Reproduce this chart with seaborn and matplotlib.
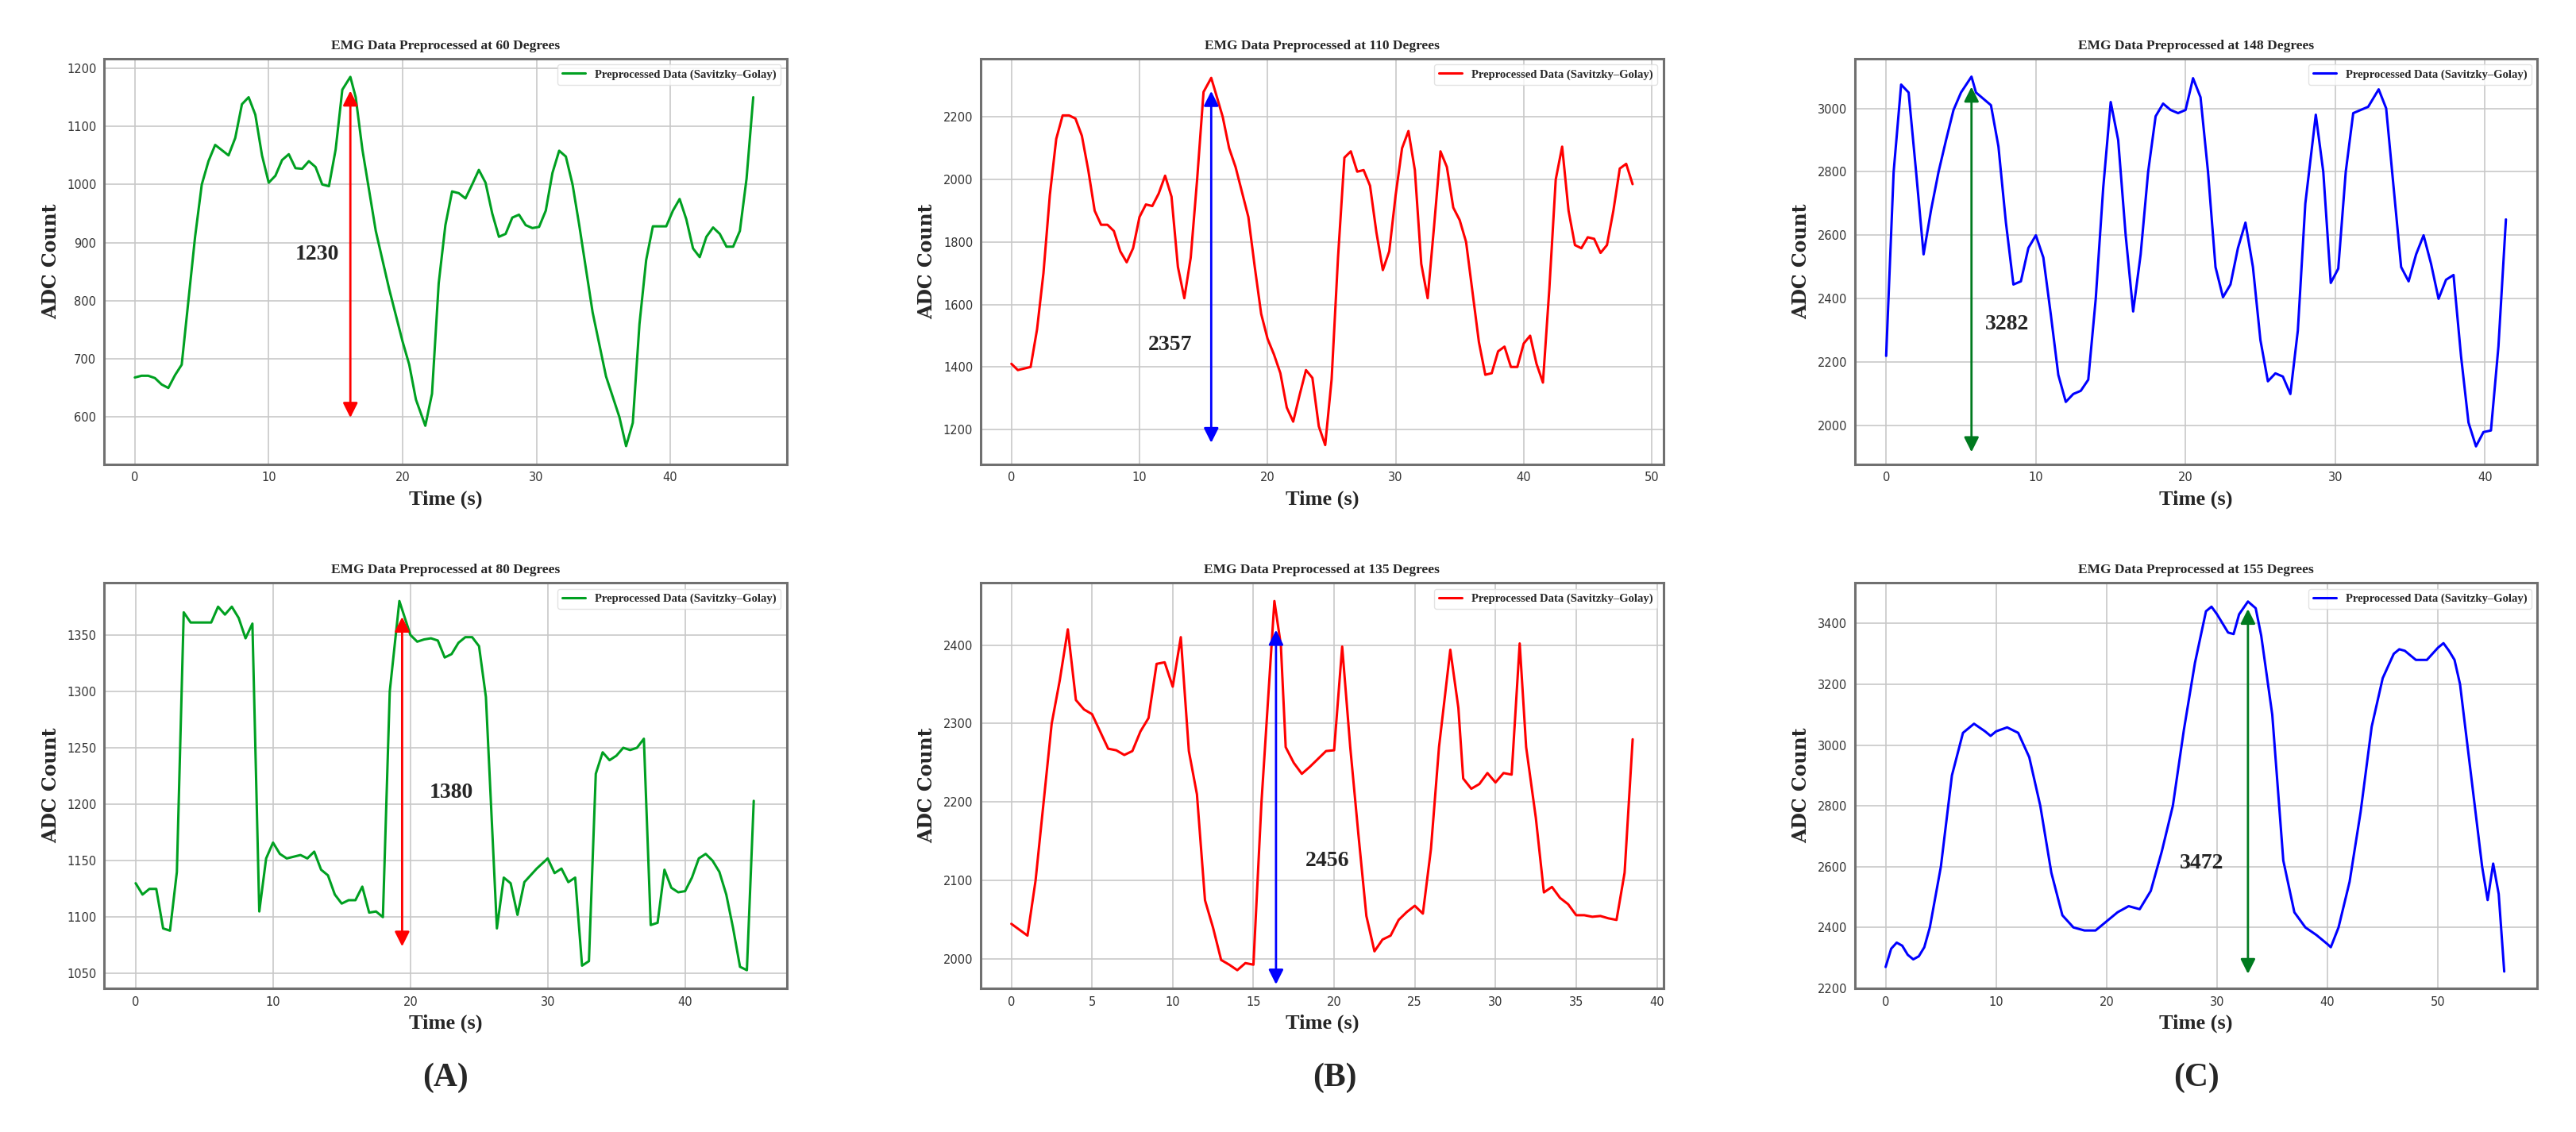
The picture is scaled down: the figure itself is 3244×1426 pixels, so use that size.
import numpy as np
import pandas as pd
import matplotlib
matplotlib.use("Agg")
import matplotlib.pyplot as plt
import seaborn as sns

# ---- data ----
t_60 = [0, 0.5, 1, 1.5, 2, 2.5, 3, 3.5, 4, 4.5, 5, 5.5, 6, 7, 7.5, 8, 8.5, 9, 9.5, 10, 10.5, 11, 11.5, 12, 12.5,
        13, 13.5, 14, 14.5, 15, 15.5, 16.1, 16.5, 17, 18, 19, 20, 20.5, 21, 21.7, 22.2, 22.7, 23.2, 23.7, 24.2,
        24.7, 25.2, 25.7, 26.2, 26.7, 27.2, 27.7, 28.2, 28.7, 29.2, 29.7, 30.2, 30.7, 31.2, 31.7, 32.2, 32.7,
        33.2, 34.2, 35.2, 36.2, 36.7, 37.2, 37.7, 38.2, 38.7, 39.2, 39.7, 40.2, 40.7, 41.2, 41.7, 42.2, 42.7,
        43.2, 43.7, 44.2, 44.7, 45.2, 45.7, 46.2]
y_60 = [668, 671, 671, 667, 656, 650, 672, 690, 800, 910, 1000, 1040, 1068, 1050, 1080, 1138, 1150, 1120, 1050,
        1003, 1015, 1042, 1052, 1028, 1027, 1040, 1030, 1000, 997, 1060, 1163, 1185, 1150, 1060, 920, 820, 730,
        690, 630, 585, 640, 830, 930, 988, 985, 976, 1000, 1025, 1003, 950, 910, 915, 943, 948, 930, 925, 927,
        955, 1020, 1058, 1048, 1000, 930, 780, 670, 600, 550, 590, 760, 870, 928, 928, 928, 955, 975, 940, 890,
        875, 910, 926, 915, 893, 893, 920, 1010, 1150]

t_80 = [0, 0.5, 1, 1.5, 2, 2.5, 3, 3.5, 4, 5, 5.5, 6, 6.5, 7, 7.5, 8, 8.5, 9, 9.5, 10, 10.5, 11, 12, 12.5, 13,
        13.5, 14, 14.5, 15, 15.5, 16, 16.5, 17, 17.5, 18, 18.5, 19.2, 19.6, 20, 20.5, 21, 21.5, 22, 22.5, 23,
        23.5, 24, 24.5, 25, 25.5, 26.3, 26.8, 27.3, 27.8, 28.3, 29.2, 30, 30.5, 31, 31.5, 32, 32.5, 33, 33.5,
        34, 34.5, 35, 35.5, 36, 36.5, 37, 37.5, 38, 38.5, 39, 39.5, 40, 40.5, 41, 41.5, 42, 42.5, 43, 43.5, 44,
        44.5, 45]
y_80 = [1130, 1120, 1125, 1125, 1090, 1088, 1140, 1370, 1361, 1361, 1361, 1375, 1368, 1375, 1365, 1347, 1360,
        1105, 1152, 1166, 1156, 1152, 1155, 1152, 1158, 1142, 1137, 1120, 1112, 1115, 1115, 1127, 1104, 1105,
        1100, 1300, 1380, 1365, 1350, 1344, 1346, 1347, 1345, 1330, 1333, 1343, 1348, 1348, 1340, 1295, 1090,
        1135, 1130, 1102, 1131, 1143, 1152, 1139, 1143, 1131, 1135, 1057, 1061, 1227, 1246, 1239, 1243, 1250,
        1248, 1250, 1258, 1093, 1095, 1142, 1126, 1122, 1123, 1135, 1152, 1156, 1150, 1140, 1120, 1090, 1056,
        1053, 1203]

t_110 = [0, 0.5, 1, 1.5, 2, 2.5, 3, 3.5, 4, 4.5, 5, 5.5, 6, 6.5, 7, 7.5, 8, 8.5, 9, 9.5, 10, 10.5, 11, 11.5, 12,
         12.5, 13, 13.5, 14, 14.5, 15, 15.6, 16, 16.5, 17, 17.5, 18, 18.5, 19, 19.5, 20, 20.5, 21, 21.5, 22,
         22.5, 23, 23.5, 24, 24.5, 25, 25.5, 26, 26.5, 27, 27.5, 28, 28.5, 29, 29.5, 30, 30.5, 31, 31.5, 32,
         32.5, 33, 33.5, 34, 34.5, 35, 35.5, 36, 36.5, 37, 37.5, 38, 38.5, 39, 39.5, 40, 40.5, 41, 41.5, 42,
         42.5, 43, 43.5, 44, 44.5, 45, 45.5, 46, 46.5, 47, 47.5, 48, 48.5]
y_110 = [1410, 1390, 1395, 1400, 1520, 1700, 1950, 2130, 2205, 2205, 2195, 2140, 2030, 1900, 1855, 1855, 1835,
         1770, 1735, 1780, 1880, 1920, 1915, 1955, 2012, 1945, 1720, 1620, 1750, 2000, 2280, 2325, 2270, 2200,
         2100, 2040, 1960, 1880, 1720, 1570, 1490, 1440, 1380, 1270, 1225, 1310, 1390, 1365, 1210, 1150, 1360,
         1750, 2070, 2090, 2025, 2030, 1980, 1830, 1710, 1770, 1950, 2100, 2155, 2030, 1730, 1620, 1850, 2090,
         2040, 1910, 1870, 1800, 1640, 1480, 1375, 1380, 1450, 1465, 1400, 1400, 1475, 1500, 1410, 1350, 1650,
         2000, 2105, 1900, 1790, 1780, 1815, 1810, 1765, 1790, 1900, 2035, 2050, 1985]

t_135 = [0, 1, 1.5, 2, 2.5, 3, 3.5, 4, 4.5, 5, 5.5, 6, 6.5, 7, 7.5, 8, 8.5, 9, 9.5, 10, 10.5, 11, 11.5, 12,
         12.5, 13, 13.5, 14, 14.5, 15, 15.5, 16.3, 16.7, 17, 17.5, 18, 18.5, 19, 19.5, 20, 20.5, 21, 21.5, 22,
         22.5, 23, 23.5, 24, 24.5, 25, 25.5, 26, 26.5, 27.2, 27.7, 28, 28.5, 29, 29.5, 30, 30.5, 31, 31.5,
         31.9, 32.5, 33, 33.5, 34, 34.5, 35, 35.5, 36, 36.5, 37, 37.5, 38, 38.5]
y_135 = [2045, 2030, 2100, 2200, 2300, 2355, 2420, 2330, 2318, 2312, 2290, 2268, 2266, 2260, 2265, 2290, 2307,
         2376, 2378, 2347, 2410, 2265, 2210, 2075, 2040, 1999, 1993, 1986, 1995, 1993, 2200, 2456, 2400, 2270,
         2250, 2236, 2245, 2255, 2265, 2266, 2398, 2270, 2160, 2055, 2010, 2025, 2030, 2050, 2060, 2068, 2058,
         2140, 2270, 2394, 2320, 2230, 2217, 2223, 2237, 2225, 2237, 2235, 2402, 2270, 2180, 2085, 2092, 2078,
         2070, 2056, 2056, 2054, 2055, 2052, 2050, 2110, 2280]

t_148 = [0, 0.5, 1, 1.5, 2, 2.5, 3, 3.5, 4, 4.5, 5, 5.7, 6, 6.5, 7, 7.5, 8, 8.5, 9, 9.5, 10, 10.5, 11, 11.5,
         12, 12.5, 13, 13.5, 14, 14.5, 15, 15.5, 16, 16.5, 17, 17.5, 18, 18.5, 19, 19.5, 20, 20.5, 21, 21.5,
         22, 22.5, 23, 23.5, 24, 24.5, 25, 25.5, 26, 26.5, 27, 27.5, 28, 28.7, 29.2, 29.7, 30.2, 30.7, 31.2,
         31.7, 32.2, 32.9, 33.4, 33.9, 34.4, 34.9, 35.4, 35.9, 36.4, 36.9, 37.4, 37.9, 38.4, 38.9, 39.4, 39.9,
         40.4, 40.9, 41.4]
y_148 = [2220, 2800, 3075, 3050, 2800, 2540, 2680, 2800, 2900, 2995, 3050, 3100, 3050, 3030, 3010, 2880, 2640,
         2445, 2455, 2560, 2600, 2530, 2350, 2160, 2075, 2100, 2110, 2145, 2400, 2750, 3020, 2900, 2600, 2360,
         2540, 2800, 2975, 3015, 2995, 2985, 2995, 3095, 3035, 2800, 2500, 2405, 2445, 2560, 2640, 2500, 2270,
         2140, 2165, 2155, 2100, 2300, 2700, 2980, 2800, 2450, 2495, 2800, 2985, 2995, 3005, 3060, 3000, 2750,
         2500, 2455, 2540, 2600, 2510, 2400, 2460, 2475, 2220, 2010, 1935, 1980, 1985, 2250, 2650]

t_155 = [0, 0.5, 1, 1.5, 2, 2.5, 3, 3.5, 4, 5, 6, 7, 8, 9, 9.5, 10, 11, 12, 13, 14, 15, 16, 17, 18, 19, 20, 21,
         22, 23, 24, 25, 26, 27, 28, 29, 29.5, 30, 31, 31.5, 32, 32.8, 33.5, 34, 35, 36, 37, 38, 39, 40, 40.3,
         41, 42, 43, 44, 45, 46, 46.5, 47, 48, 49, 50, 50.5, 51, 51.5, 52, 53, 54, 54.5, 55, 55.5, 56]
y_155 = [2270, 2330, 2350, 2340, 2310, 2295, 2305, 2335, 2400, 2600, 2900, 3040, 3070, 3045, 3030, 3045, 3058,
         3040, 2960, 2800, 2580, 2440, 2400, 2390, 2390, 2420, 2450, 2470, 2460, 2520, 2650, 2800, 3050, 3270,
         3440, 3455, 3430, 3370, 3365, 3430, 3472, 3450, 3360, 3100, 2620, 2450, 2400, 2375, 2345, 2335, 2400,
         2550, 2780, 3060, 3220, 3300, 3315, 3310, 3280, 3280, 3320, 3335, 3310, 3280, 3200, 2900, 2600, 2490,
         2610, 2510, 2255]

angles = [60, 80, 110, 135, 148, 155]
peak_labels = ["1230", "1380", "2357", "2456", "3282", "3472"]
# arrow: x, top, bottom ; label position
arrows = [(16.1, 1165, 595), (19.4, 1368, 1072), (15.6, 2290, 1150),
          (16.4, 2422, 1965), (5.7, 3075, 1910), (32.8, 3455, 2240)]
label_pos = [(13.6, 880), (23.0, 1210), (12.4, 1470), (19.6, 2125), (8.1, 2320), (28.6, 2610)]
ylims = [(519, 1216), (1037, 1396), (1089, 2386), (1963, 2479), (1879, 3156), (2200, 3533)]
xlims = [(-2.3, 48.7), (-2.3, 47.4), (-2.4, 50.9), (-1.9, 40.4), (-2.1, 43.5), (-2.8, 59)]
line_colors = ["#00a021", "#00a021", "#ff0000", "#ff0000", "#0000ff", "#0000ff"]
arrow_colors = ["#ff0000", "#ff0000", "#0000ff", "#0000ff", "#007a1f", "#007a1f"]
series = [(t_60, y_60), (t_80, y_80), (t_110, y_110), (t_135, y_135), (t_148, y_148), (t_155, y_155)]

sns.set_style("whitegrid", {"grid.color": "#c8c8c8", "axes.edgecolor": "#707070"})
serif = "Liberation Serif"

fig = plt.figure(figsize=(32.44, 14.26), dpi=100)
lefts = [0.0404, 0.3807, 0.720]
bottoms = [0.590, 0.127]
w, h = 0.2650, 0.358

for i, (t, y) in enumerate(series):
    col, row = i // 2, i % 2
    ax = fig.add_axes([lefts[col], bottoms[row], w, h])
    df = pd.DataFrame({"t": t, "y": y})
    sns.lineplot(data=df, x="t", y="y", ax=ax, color=line_colors[i], linewidth=2.2,
                 label="Preprocessed Data (Savitzky\u2013Golay)")
    ax.set_xlim(*xlims[i])
    ax.set_ylim(*ylims[i])
    for s in ax.spines.values():
        s.set_linewidth(2.2)
        s.set_color("#707070")
    ax.grid(True, linewidth=1.2)
    ax.tick_params(labelsize=10.5, colors="#333333")
    ax.set_title(f"EMG Data Preprocessed at {angles[i]} Degrees", family=serif,
                 fontweight="bold", fontsize=12.5, pad=9)
    ax.set_xlabel("Time (s)", family=serif, fontweight="bold", fontsize=19, labelpad=6)
    ax.set_ylabel("ADC Count", family="DejaVu Serif", fontweight="bold", fontsize=17, labelpad=6)
    leg = ax.legend(loc="upper right", prop={"family": serif, "weight": "bold", "size": 10.5},
                    frameon=True, fancybox=True)
    leg.get_frame().set_edgecolor("#dddddd")
    ax_x, top, bot = arrows[i]
    ax.annotate("", xy=(ax_x, top), xytext=(ax_x, bot),
                arrowprops=dict(arrowstyle="<|-|>", color=arrow_colors[i], lw=2, mutation_scale=28))
    lx, ly = label_pos[i]
    ax.text(lx, ly, peak_labels[i], family=serif, fontweight="bold", fontsize=20,
            ha="center", va="center")

for col, lab in enumerate(["(A)", "(B)", "(C)"]):
    fig.text(lefts[col] + w * 0.5 + [0.0, 0.005, 0.0][col], 0.048, lab, family=serif,
             fontweight="bold", fontsize=30, ha="center", va="center")

fig.savefig("out.png", dpi=100)
